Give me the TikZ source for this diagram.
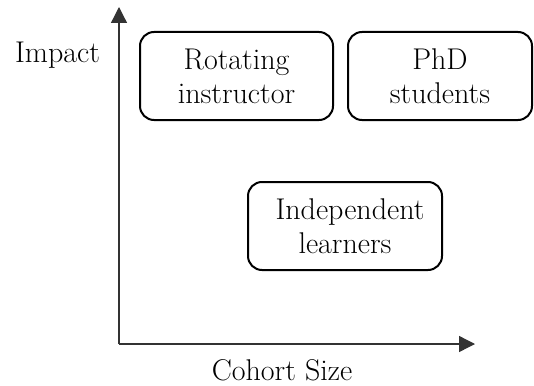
\documentclass[tikz,border=0pt]{standalone}
\usetikzlibrary{arrows.meta}

\tikzset{
  axis/.style={line width=1.3pt, draw=black!80, -{Triangle[length=16pt,width=16pt]}},
  group/.style={draw, line width=2pt, rounded corners=14pt, align=center,
    inner sep=0pt},
  label text/.style={anchor=base, inner sep=0pt},
}

\begin{document}
\begin{tikzpicture}[x=1pt,y=-1pt,font=\fontsize{30}{34}\selectfont]
				\useasboundingbox (0,0) rectangle (534,385);
				
				\coordinate (origin) at (119,344);
				\coordinate (ytip) at (119,7);
				\coordinate (xtip) at (475,344);
				\draw[axis] (origin) -- (ytip);
				\draw[axis] (origin) -- (xtip);
				
				\node[group, minimum width=193pt, minimum height=88pt] (rot) at (236.5,76) {Rotating\\instructor};
				\node[group, minimum width=184pt, minimum height=88pt] (phd) at (440,76) {PhD\\students};
				\node[group, minimum width=194pt, minimum height=88pt] (ind) at (345,226) {\hspace{10pt}Independent\\learners};
				
				\node[label text] (impact) at (57.5,63) {Impact};
				\node[label text] (cohort) at (282,380) {Cohort Size};
			\end{tikzpicture}
\end{document}
